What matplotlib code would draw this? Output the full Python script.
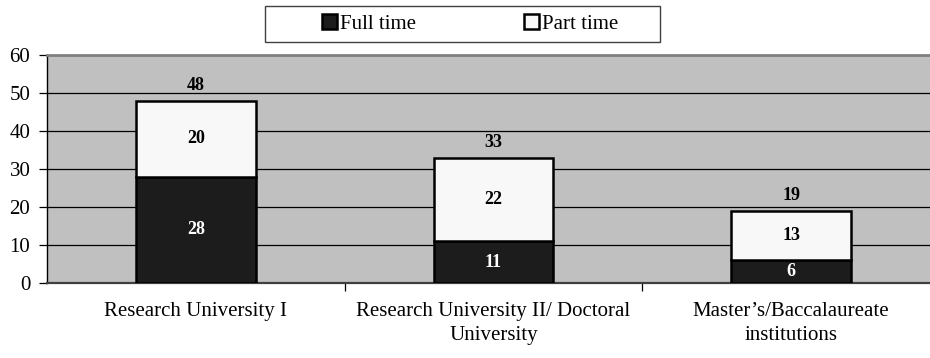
import matplotlib
matplotlib.use("Agg")
import matplotlib.pyplot as plt
from matplotlib.patches import Rectangle
import numpy as np

categories = ["Research University I", "Research University II/ Doctoral\nUniversity",
              "Master\u2019s/Baccalaureate\ninstitutions"]
full_time = [28, 11, 6]
part_time = [20, 22, 13]
totals = [48, 33, 19]
yticks = [0, 10, 20, 30, 40, 50, 60]

plt.rcParams['font.family'] = ['Liberation Serif', 'DejaVu Serif']

W, H = 930, 358
fig = plt.figure(figsize=(W / 100, H / 100), dpi=100)
left, right, top, bottom = 47, 940, 55, 283
ax = fig.add_axes([left / W, (H - bottom) / H, (right - left) / W, (bottom - top) / H])
ax.set_facecolor('#c0c0c0')

x = np.arange(len(categories))
bw = 120 / 297.7
b1 = ax.bar(x, full_time, width=bw, color='#1c1c1c', edgecolor='black', linewidth=1.8,
            label='Full time', zorder=3)
b2 = ax.bar(x, part_time, width=bw, bottom=full_time, color='#f8f8f8', edgecolor='black',
            linewidth=1.8, label='Part time', zorder=3)

for i in range(len(categories)):
    ax.text(x[i], full_time[i] / 2, str(full_time[i]), ha='center', va='center',
            color='white', fontsize=13, fontweight='bold', zorder=4)
    ax.text(x[i], full_time[i] + part_time[i] / 2, str(part_time[i]), ha='center',
            va='center', color='black', fontsize=13, fontweight='bold', zorder=4)
    ax.annotate(str(totals[i]), (x[i], totals[i]), xytext=(0, 11), textcoords='offset points',
                ha='center', va='center', color='black', fontsize=13, fontweight='bold',
                zorder=4)

ax.set_xlim(-0.5, 2.5)
ax.set_ylim(0, 60)
ax.set_yticks(yticks)
ax.set_yticklabels([str(v) for v in yticks], fontsize=15)
ax.yaxis.grid(True, color='black', linewidth=0.9, zorder=1)
ax.set_axisbelow(True)

ax.set_xticks(x)
ax.set_xticklabels(categories, fontsize=15, linespacing=1.3)
ax.tick_params(axis='x', length=0, pad=14)
ax.set_xticks([0.5, 1.5], minor=True)
ax.tick_params(axis='x', which='minor', length=6, width=0.9, direction='out', color='black')
ax.tick_params(axis='y', length=6, width=0.9, direction='out', pad=6)

ax.spines['top'].set_color('#808080')
ax.spines['top'].set_linewidth(2)
ax.spines['right'].set_visible(False)
ax.spines['left'].set_color('black')
ax.spines['left'].set_linewidth(1.0)
ax.spines['bottom'].set_color('#404040')
ax.spines['bottom'].set_linewidth(1.6)

# legend frame drawn as a figure rectangle
fx0, fx1, fy0, fy1 = 265, 660, 6, 42
fig.patches.append(Rectangle((fx0 / W, 1 - fy1 / H), (fx1 - fx0) / W, (fy1 - fy0) / H,
                             transform=fig.transFigure, facecolor='white',
                             edgecolor='#404040', linewidth=1.0, zorder=0))
leg = fig.legend(handles=[b1, b2], labels=['Full time', 'Part time'], loc='center',
                 bbox_to_anchor=(470 / W, 1 - 24 / H), ncol=2, frameon=False,
                 fontsize=15, handlelength=0.7, handleheight=0.7, handletextpad=0.15,
                 columnspacing=5.2, borderpad=0.2, borderaxespad=0)
for h in leg.legend_handles:
    h.set_linewidth(1.8)

fig.savefig('out.png', dpi=100)
